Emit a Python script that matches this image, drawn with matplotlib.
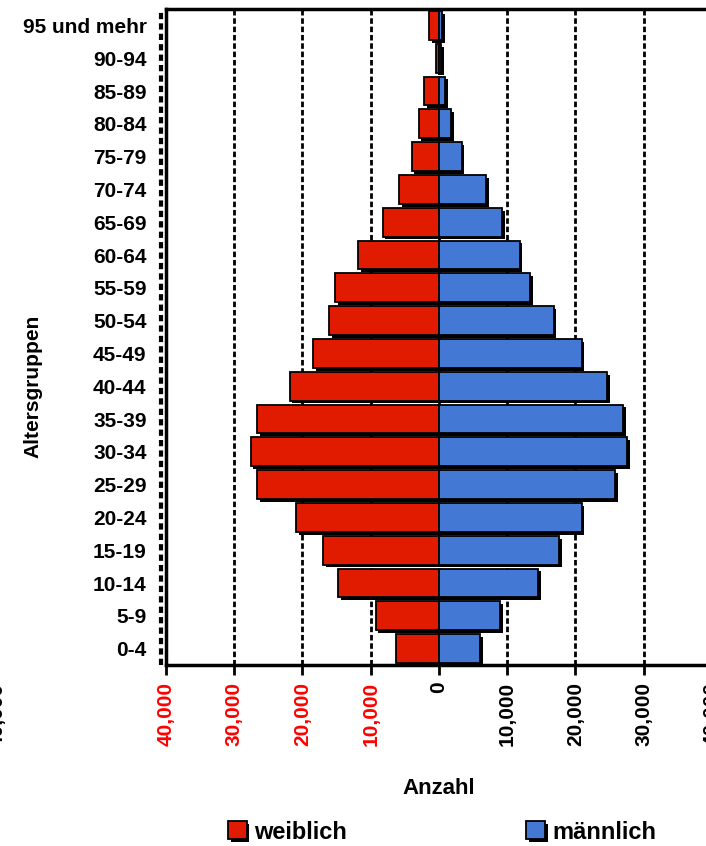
import matplotlib
matplotlib.use("Agg")
import matplotlib.pyplot as plt
import matplotlib.patheffects as pe
import matplotlib.transforms as mtrans
import numpy as np

plt.rcParams['font.family'] = ['Liberation Sans', 'DejaVu Sans']
plt.rcParams['font.weight'] = 'bold'

# Altersgruppen von unten nach oben
gruppen = ["0-4", "5-9", "10-14", "15-19", "20-24", "25-29", "30-34", "35-39",
           "40-44", "45-49", "50-54", "55-59", "60-64", "65-69", "70-74",
           "75-79", "80-84", "85-89", "90-94", "95 und mehr"]
weiblich = [6300, 9300, 14800, 17000, 20900, 26700, 27600, 26700, 21900, 18500,
            16100, 15200, 11900, 8250, 5800, 4000, 3000, 2150, 500, 1400]
maennlich = [6000, 9000, 14500, 17600, 20900, 25800, 27600, 27000, 24600, 20900,
             16800, 13300, 11800, 9300, 6900, 3300, 1800, 900, 300, 500]
ticks = [-40000, -30000, -20000, -10000, 0, 10000, 20000, 30000, 40000]

rot = "#E01B00"
blau = "#4379D4"

fig = plt.figure(figsize=(7.06, 8.46), dpi=100)
ax = fig.add_axes([0.2351, 0.2139, 0.7734, 0.7754])

y = np.arange(len(gruppen))
schatten = [pe.SimplePatchShadow(offset=(2, -2), shadow_rgbFace='black', alpha=1), pe.Normal()]
b1 = ax.barh(y, [-v for v in weiblich], height=0.88, color=rot, edgecolor='black',
             linewidth=1.3, label="weiblich", zorder=3)
b2 = ax.barh(y, maennlich, height=0.88, color=blau, edgecolor='black',
             linewidth=1.3, label="männlich", zorder=3)
for b in list(b1) + list(b2):
    b.set_path_effects(schatten)

ax.set_xlim(-40000, 40000)
ax.set_ylim(-0.5, len(gruppen) - 0.5)
ax.set_xticks(ticks)
ax.set_xticklabels([f"{abs(t):,}" for t in ticks], rotation=90, fontsize=15, fontweight='bold')
for t, lab in zip(ticks, ax.get_xticklabels()):
    if t < 0:
        lab.set_color("red")
ax.set_yticks(y)
ax.set_yticklabels(gruppen, fontsize=15, fontweight='bold')
ax.tick_params(axis='y', length=0, pad=14)
ax.tick_params(axis='x', length=7, width=2, direction='out', pad=5)

ax.grid(axis='x', color='black', linestyle=(0, (2, 1)), linewidth=2, zorder=1)
for s in ax.spines.values():
    s.set_linewidth(2.5)

# gestrichelte Linie links neben der Achse
off = mtrans.ScaledTranslation(-3.8 / 72, 0, fig.dpi_scale_trans)
ax.plot([0, 0], [0, 1], transform=ax.transAxes + off, color='black',
        linestyle=(0, (1.5, 1)), linewidth=3, clip_on=False)

ax.set_ylabel("Altersgruppen", fontsize=15, fontweight='bold')
ax.yaxis.set_label_coords(-0.226, 0.425)
ax.set_xlabel("Anzahl", fontsize=16, fontweight='bold')
ax.xaxis.set_label_coords(0.499, -0.172)

fig.text(-0.017, 0.193, "40,000", rotation=90, fontsize=15, fontweight='bold',
         ha='left', va='top')

fig.legend(handles=[b1, b2], labels=["weiblich", "männlich"], loc='center',
           bbox_to_anchor=(0.626, 0.0165), ncol=2, frameon=False, fontsize=17,
           columnspacing=7.6, handlelength=0.8, handleheight=0.8, handletextpad=0.3)

plt.savefig("out.png", dpi=100)
